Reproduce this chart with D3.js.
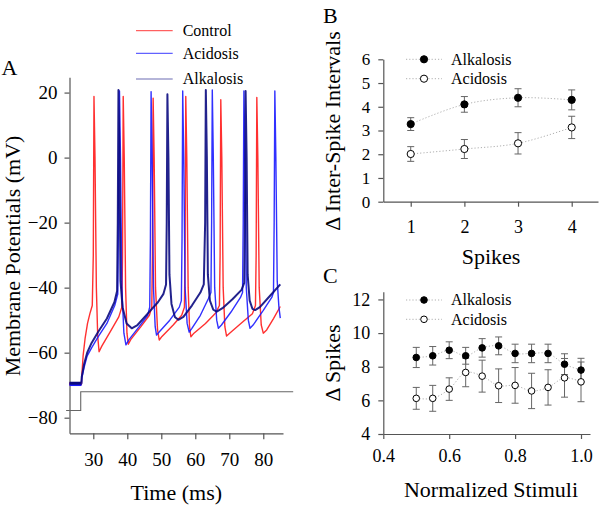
<!DOCTYPE html>
<html>
<head>
<meta charset="utf-8">
<script src="https://cdn.jsdelivr.net/npm/d3@7/dist/d3.min.js"></script>
</head>
<body style="margin:0">
<svg id="chart" width="600" height="506"></svg>
<script>
// ---------------- DATA ----------------
// Panel A: membrane potential traces, [time (ms), voltage (mV)]
const timeTicks = [30, 40, 50, 60, 70, 80];
const voltTicks = [20, 0, -20, -40, -60, -80];
const traceNames = ["Control", "Acidosis", "Alkalosis"];

const controlTrace = [
  [23,-69.6],[26.5,-69.6],[26.6,-67.5],[27.0,-61],[27.6,-55.5],[28.3,-51],[29.0,-48],[29.7,-45.5],[30.0,-30],[30.2,18.8],[30.5,0],[30.9,-40],[31.3,-55],[31.7,-59.7],
  [32.5,-58],[35,-53.5],[37.5,-49],[38.4,-46],[38.6,-30],[38.8,18.8],[39.1,0],[39.5,-40],[39.9,-54],[40.3,-57.4],
  [41,-56],[44,-52],[46.5,-48.5],[47.2,-46],[47.4,-30],[47.6,18.3],[47.9,0],[48.3,-40],[48.9,-53],[49.4,-56.1],
  [50.2,-55],[53.5,-51.5],[56,-48.5],[56.8,-46],[57.0,-30],[57.2,18.8],[57.5,0],[57.9,-40],[58.3,-52],[58.7,-55.1],
  [59.6,-54],[63,-51],[66,-47.8],[67.1,-45.5],[67.3,-30],[67.5,17.8],[67.8,0],[68.2,-40],[68.7,-52],[69.2,-54.9],
  [70.1,-54],[74,-50.5],[76.8,-48],[77.7,-45.5],[77.9,-30],[78.1,18.5],[78.4,0],[78.8,-40],[79.4,-51.5],[80.0,-54.0],
  [81,-53],[83,-49.5],[85,-45.8]
];
const acidosisTrace = [
  [23,-69.8],[26.5,-69.8],[26.6,-68],[27.3,-64.5],[28.2,-61],[29.5,-58.5],[31.5,-55],[34,-51],[36.3,-45.5],[37.2,-42],[37.4,-20],[37.7,20.5],[38.0,0],[38.4,-40],[39.0,-54],[39.6,-57.6],
  [40.5,-56],[43.5,-52],[46.0,-48.5],[46.6,-46],[46.8,-25],[47.0,20.3],[47.3,0],[47.7,-40],[48.2,-52],[48.6,-54.6],
  [49.5,-53.5],[52.5,-50],[55.3,-46],[55.9,-44],[56.1,-25],[56.3,20.5],[56.6,0],[57.0,-40],[57.6,-51],[58.2,-53.7],
  [59.0,-52.5],[61.5,-48.5],[63.8,-43.5],[64.6,-41.5],[64.8,-20],[65.0,20.8],[65.3,0],[65.7,-40],[66.3,-50],[66.8,-52.5],
  [67.7,-51.5],[70.5,-47.5],[73.3,-43],[73.9,-41.5],[74.1,-20],[74.3,20.5],[74.6,0],[75.0,-40],[75.6,-50],[76.1,-52.5],
  [77,-51.5],[80,-47],[82.5,-43],[83.0,-41.5],[83.2,-20],[83.4,20.5],[83.7,0],[84.1,-38],[84.6,-46],[85,-49.4]
];
const alkalosisTrace = [
  [23,-69.4],[26.5,-69.4],[26.6,-67.5],[27.3,-63.5],[28.2,-60],[29.5,-57],[31.5,-53.5],[34,-49.5],[36.2,-44.5],[37.0,-41],[37.2,-20],[37.4,20.8],[37.7,0],[38.0,-38],[38.6,-46],[39.8,-51],[41.3,-52.5],
  [43,-51.5],[46,-48],[49,-44.5],[50.6,-42],[51.4,-39],[51.6,-20],[51.8,19.5],[52.1,0],[52.4,-36],[53,-45],[54,-49],[55.0,-49.9],
  [56.5,-49],[59,-45.5],[61.5,-41.5],[62.5,-39],[62.9,-20],[63.1,20.8],[63.4,0],[63.7,-36],[64.3,-44],[65.3,-46.8],[66.3,-47.4],
  [68,-46.3],[71,-43.5],[73.6,-40.7],[74.4,-38.5],[74.6,-20],[74.8,20.5],[75.1,0],[75.4,-36],[76,-44],[76.8,-46.5],[77.6,-46.9],
  [79,-46],[82,-42.5],[85,-39]
];
const stimulusTrace = [[22,-77.8],[26.3,-77.8],[26.3,-72],[88.8,-72]];

// Panel B: delta inter-spike intervals
const spikeNumbers = [1, 2, 3, 4];
const isiAlkalosis = [3.27, 4.10, 4.38, 4.29];
const isiAlkalosisErr = [0.27, 0.33, 0.38, 0.42];
const isiAcidosis = [2.01, 2.22, 2.46, 3.13];
const isiAcidosisErr = [0.31, 0.40, 0.45, 0.47];
const isiYTicks = [0, 1, 2, 3, 4, 5, 6];

// Panel C: delta spikes vs normalized stimuli
const stimuli = [0.5, 0.55, 0.6, 0.65, 0.7, 0.75, 0.8, 0.85, 0.9, 0.95, 1.0];
const spkAlkalosis = [8.55, 8.65, 8.98, 8.65, 9.12, 9.24, 8.79, 8.79, 8.79, 8.15, 7.80];
const spkAlkalosisErr = [0.60, 0.55, 0.50, 0.50, 0.55, 0.53, 0.55, 0.55, 0.55, 0.62, 0.70];
const spkAcidosis = [6.12, 6.12, 6.67, 7.66, 7.44, 6.87, 6.89, 6.56, 6.77, 7.34, 7.10];
const spkAcidosisErr = [0.65, 0.77, 0.67, 0.85, 0.95, 1.00, 1.06, 1.05, 1.05, 1.15, 1.18];
const stimXTicks = [0.4, 0.6, 0.8, 1.0];
const spkYTicks = [4, 6, 8, 10, 12];

// ---------------- DRAWING ----------------
const fontName = ["Liberation", "Serif"].join(" ");
const FONT = `'${fontName}'`;
const svg = d3.select("#chart");
const AXIS = "#555";
const colors = { Control: "#ff1a1a", Acidosis: "#1a1aff", Alkalosis: "#0a0a80" };

function txt(sel, size) {
  return sel.style("font-family", FONT).style("font-size", size + "px");
}

function styleAxis(g, fontSize) {
  g.attr("font-family", null).attr("font-size", null);
  g.select(".domain").attr("stroke", AXIS).attr("stroke-width", 1.2);
  g.selectAll(".tick line").attr("stroke", AXIS).attr("stroke-width", 1.2);
  txt(g.selectAll(".tick text"), fontSize).attr("fill", "#000");
}

// ===== Panel A =====
const xA = d3.scaleLinear().domain([23, 85.8]).range([69.5, 283.0]);
const yA = d3.scaleLinear().domain([-84.8, 24.7]).range([433.3, 77.3]);

txt(svg.append("text").attr("x", 1.5).attr("y", 75), 22).text("A");

const gAy = svg.append("g").attr("transform", `translate(${xA.range()[0]},0)`)
  .call(d3.axisLeft(yA).tickValues(voltTicks).tickSize(5).tickSizeOuter(0).tickPadding(7));
styleAxis(gAy, 19);
const gAx = svg.append("g").attr("transform", `translate(0,${yA.range()[0]})`)
  .call(d3.axisBottom(xA).tickValues(timeTicks).tickSize(6).tickSizeOuter(0).tickPadding(13));
styleAxis(gAx, 19);

const lineA = d3.line().x(d => xA(d[0])).y(d => yA(d[1]));
svg.append("path").datum(stimulusTrace).attr("d", lineA)
  .attr("fill", "none").attr("stroke", "#666").attr("stroke-width", 1.1);

const traces = [
  { name: "Control", data: controlTrace, w: 1.4 },
  { name: "Acidosis", data: acidosisTrace, w: 1.4 },
  { name: "Alkalosis", data: alkalosisTrace, w: 2.0 }
];
traces.forEach(t => {
  svg.append("path").datum(t.data).attr("d", lineA)
    .attr("fill", "none").attr("stroke", colors[t.name])
    .attr("stroke-width", t.w).attr("stroke-linejoin", "round").attr("opacity", 0.9);
});
traces.forEach(t => {
  svg.append("path").datum(t.data.slice(0, 2)).attr("d", lineA)
    .attr("fill", "none").attr("stroke", colors[t.name]).attr("stroke-width", 3);
});

// legend A
const legA = svg.append("g");
traceNames.forEach((n, i) => {
  const yy = [30.7, 53.3, 79][i];
  legA.append("line").attr("x1", 136).attr("x2", 172.7).attr("y1", yy).attr("y2", yy)
    .attr("stroke", colors[n]).attr("stroke-width", 1).attr("opacity", n === "Alkalosis" ? 0.6 : 0.85);
  txt(legA.append("text").attr("x", 182.7).attr("y", yy).attr("dy", "0.33em"), 16).text(n);
});

txt(svg.append("text").attr("transform", "translate(20,256) rotate(-90)")
  .attr("text-anchor", "middle"), 22).text("Membrane Potentials (mV)");
txt(svg.append("text").attr("x", 176.3).attr("y", 499.6)
  .attr("text-anchor", "middle"), 22).text("Time (ms)");

// ===== Panel B / C =====
const dotted = { stroke: "#b0b0b0", dash: "1.2,2" };

function panel(cfg) {
  const g = svg.append("g");
  const { x, y } = cfg;
  const gy = g.append("g").attr("transform", `translate(${x.range()[0]},0)`)
    .call(d3.axisLeft(y).tickValues(cfg.yTicks).tickSize(5).tickSizeOuter(0).tickPadding(8)
      .tickFormat(cfg.yFmt || d3.format("d")));
  styleAxis(gy, cfg.yFont);
  const gx = g.append("g").attr("transform", `translate(0,${y.range()[0]})`)
    .call(d3.axisBottom(x).tickValues(cfg.xTicks).tickSize(5).tickSizeOuter(0).tickPadding(cfg.xPad)
      .tickFormat(cfg.xFmt || d3.format("d")));
  styleAxis(gx, cfg.xFont);

  const lineGen = d3.line().x(d => x(d[0])).y(d => y(d[1])).curve(d3.curveCatmullRom.alpha(0.5));
  cfg.series.forEach(s => {
    const pts = cfg.xs.map((xv, i) => [xv, s.vals[i], s.errs[i]]);
    g.append("path").datum(pts).attr("d", lineGen)
      .attr("fill", "none").attr("stroke", dotted.stroke).attr("stroke-width", 1).attr("stroke-dasharray", dotted.dash);
    const eb = g.append("g");
    pts.forEach(p => {
      const cx = x(p[0]);
      eb.append("line").attr("x1", cx).attr("x2", cx).attr("y1", y(p[1] - p[2])).attr("y2", y(p[1] + p[2]))
        .attr("stroke", "#666").attr("stroke-width", 1);
      [p[1] - p[2], p[1] + p[2]].forEach(v => {
        eb.append("line").attr("x1", cx - 3.5).attr("x2", cx + 3.5).attr("y1", y(v)).attr("y2", y(v))
          .attr("stroke", "#666").attr("stroke-width", 1);
      });
    });
  });
  cfg.series.forEach(s => {
    cfg.xs.forEach((xv, i) => {
      g.append("circle").attr("cx", x(xv)).attr("cy", y(s.vals[i])).attr("r", cfg.r)
        .attr("fill", s.filled ? "#000" : "#fff").attr("stroke", "#000").attr("stroke-width", 1);
    });
  });
  cfg.series.forEach((s, i) => {
    const ly = cfg.legY[i];
    g.append("line").attr("x1", 406).attr("x2", 442).attr("y1", ly).attr("y2", ly)
      .attr("stroke", dotted.stroke).attr("stroke-width", 1).attr("stroke-dasharray", dotted.dash);
    g.append("circle").attr("cx", 424).attr("cy", ly).attr("r", cfg.r)
      .attr("fill", s.filled ? "#000" : "#fff").attr("stroke", "#000").attr("stroke-width", 1);
    txt(g.append("text").attr("x", 451).attr("y", ly).attr("dy", "0.33em"), 16).text(s.name);
  });
  return g;
}

// ===== Panel B =====
const xB = d3.scaleLinear().domain([0.489, 4.49]).range([383.3, 598]);
const yB = d3.scaleLinear().domain([0, 6]).range([201.7, 59.3]);
txt(svg.append("text").attr("x", 323).attr("y", 23), 22).text("B");
panel({
  x: xB, y: yB, xs: spikeNumbers, xTicks: spikeNumbers, yTicks: isiYTicks,
  xFont: 18, yFont: 17, xPad: 14, r: 3.6, legY: [59.3, 78.7],
  series: [
    { name: "Alkalosis", vals: isiAlkalosis, errs: isiAlkalosisErr, filled: true },
    { name: "Acidosis", vals: isiAcidosis, errs: isiAcidosisErr, filled: false }
  ]
});
txt(svg.append("text").attr("transform", "translate(339.5,131) rotate(-90)")
  .attr("text-anchor", "middle"), 22).text("Δ Inter-Spike Intervals");
txt(svg.append("text").attr("x", 491).attr("y", 264)
  .attr("text-anchor", "middle"), 22).text("Spikes");

// ===== Panel C =====
const xC = d3.scaleLinear().domain([0.4, 1.0273]).range([383.3, 590]);
const yC = d3.scaleLinear().domain([4, 12.46]).range([434, 291.7]);
txt(svg.append("text").attr("x", 323).attr("y", 283), 22).text("C");
panel({
  x: xC, y: yC, xs: stimuli, xTicks: stimXTicks, yTicks: spkYTicks,
  xFmt: d3.format(".1f"), xFont: 18, yFont: 18, xPad: 10, r: 3.3, legY: [300, 319.3],
  series: [
    { name: "Alkalosis", vals: spkAlkalosis, errs: spkAlkalosisErr, filled: true },
    { name: "Acidosis", vals: spkAcidosis, errs: spkAcidosisErr, filled: false }
  ]
});
txt(svg.append("text").attr("transform", "translate(339.5,363) rotate(-90)")
  .attr("text-anchor", "middle"), 22).text("Δ Spikes");
txt(svg.append("text").attr("x", 491).attr("y", 496.7)
  .attr("text-anchor", "middle"), 22).text("Normalized Stimuli");
</script>
</body>
</html>
